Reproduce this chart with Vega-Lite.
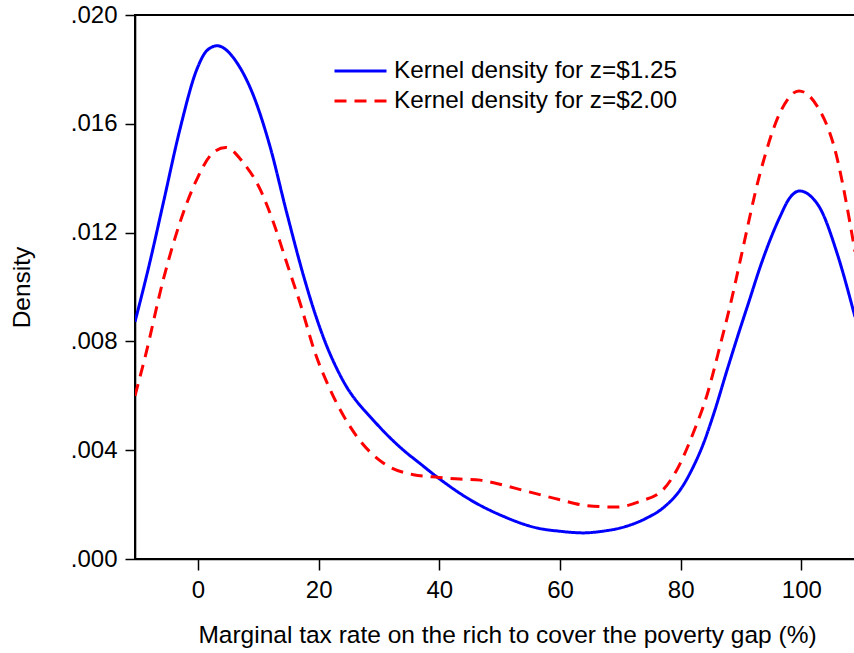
{
  "$schema": "https://vega.github.io/schema/vega-lite/v6.json",
  "autosize": {"type": "none"},
  "width": 720,
  "height": 544,
  "padding": {"left": 135, "top": 15, "right": 0, "bottom": 94},
  "background": "white",
  "config": {
    "font": "Liberation Sans",
    "view": {"stroke": "#000000", "strokeWidth": 2},
    "axis": {
      "grid": false,
      "domainColor": "#000000",
      "domainWidth": 1.6,
      "tickColor": "#000000",
      "tickWidth": 1.5,
      "labelFont": "Liberation Sans",
      "labelFontSize": 24,
      "labelColor": "#000000",
      "titleFont": "Liberation Sans",
      "titleFontSize": 24.5,
      "titleFontWeight": "normal",
      "titleColor": "#000000"
    }
  },
  "data": {
    "values": [
      {"rate": -10.45, "density": 0.00872, "series": "Kernel density for z=$1.25"},
      {"rate": -8.0, "density": 0.0109, "series": "Kernel density for z=$1.25"},
      {"rate": -5.75, "density": 0.0131, "series": "Kernel density for z=$1.25"},
      {"rate": -3.0, "density": 0.0158, "series": "Kernel density for z=$1.25"},
      {"rate": -0.2, "density": 0.0180, "series": "Kernel density for z=$1.25"},
      {"rate": 1.5, "density": 0.0187, "series": "Kernel density for z=$1.25"},
      {"rate": 3.2, "density": 0.01887, "series": "Kernel density for z=$1.25"},
      {"rate": 5.0, "density": 0.01865, "series": "Kernel density for z=$1.25"},
      {"rate": 6.4, "density": 0.01826, "series": "Kernel density for z=$1.25"},
      {"rate": 9.2, "density": 0.01703, "series": "Kernel density for z=$1.25"},
      {"rate": 11.9, "density": 0.01519, "series": "Kernel density for z=$1.25"},
      {"rate": 14.7, "density": 0.01273, "series": "Kernel density for z=$1.25"},
      {"rate": 17.5, "density": 0.0104, "series": "Kernel density for z=$1.25"},
      {"rate": 19.5, "density": 0.00895, "series": "Kernel density for z=$1.25"},
      {"rate": 21.3, "density": 0.00785, "series": "Kernel density for z=$1.25"},
      {"rate": 23.0, "density": 0.0070, "series": "Kernel density for z=$1.25"},
      {"rate": 24.7, "density": 0.0063, "series": "Kernel density for z=$1.25"},
      {"rate": 26.5, "density": 0.00574, "series": "Kernel density for z=$1.25"},
      {"rate": 28.5, "density": 0.00524, "series": "Kernel density for z=$1.25"},
      {"rate": 31.0, "density": 0.00464, "series": "Kernel density for z=$1.25"},
      {"rate": 34.0, "density": 0.00401, "series": "Kernel density for z=$1.25"},
      {"rate": 36.8, "density": 0.00351, "series": "Kernel density for z=$1.25"},
      {"rate": 40.0, "density": 0.00295, "series": "Kernel density for z=$1.25"},
      {"rate": 45.1, "density": 0.00218, "series": "Kernel density for z=$1.25"},
      {"rate": 50.6, "density": 0.00157, "series": "Kernel density for z=$1.25"},
      {"rate": 56.2, "density": 0.00114, "series": "Kernel density for z=$1.25"},
      {"rate": 60.0, "density": 0.00102, "series": "Kernel density for z=$1.25"},
      {"rate": 63.9, "density": 0.00096, "series": "Kernel density for z=$1.25"},
      {"rate": 67.0, "density": 0.00102, "series": "Kernel density for z=$1.25"},
      {"rate": 70.0, "density": 0.00114, "series": "Kernel density for z=$1.25"},
      {"rate": 74.4, "density": 0.00151, "series": "Kernel density for z=$1.25"},
      {"rate": 77.1, "density": 0.00188, "series": "Kernel density for z=$1.25"},
      {"rate": 80.4, "density": 0.0027, "series": "Kernel density for z=$1.25"},
      {"rate": 82.0, "density": 0.00335, "series": "Kernel density for z=$1.25"},
      {"rate": 83.7, "density": 0.0042, "series": "Kernel density for z=$1.25"},
      {"rate": 85.5, "density": 0.00535, "series": "Kernel density for z=$1.25"},
      {"rate": 87.7, "density": 0.00695, "series": "Kernel density for z=$1.25"},
      {"rate": 89.9, "density": 0.0085, "series": "Kernel density for z=$1.25"},
      {"rate": 91.3, "density": 0.00945, "series": "Kernel density for z=$1.25"},
      {"rate": 93.2, "density": 0.01075, "series": "Kernel density for z=$1.25"},
      {"rate": 96.5, "density": 0.0126, "series": "Kernel density for z=$1.25"},
      {"rate": 98.0, "density": 0.01325, "series": "Kernel density for z=$1.25"},
      {"rate": 99.7, "density": 0.01353, "series": "Kernel density for z=$1.25"},
      {"rate": 101.5, "density": 0.01335, "series": "Kernel density for z=$1.25"},
      {"rate": 103.2, "density": 0.01286, "series": "Kernel density for z=$1.25"},
      {"rate": 105.9, "density": 0.01126, "series": "Kernel density for z=$1.25"},
      {"rate": 108.9, "density": 0.0089, "series": "Kernel density for z=$1.25"},

      {"rate": -10.45, "density": 0.0060, "series": "Kernel density for z=$2.00"},
      {"rate": -8.8, "density": 0.0074, "series": "Kernel density for z=$2.00"},
      {"rate": -5.75, "density": 0.01028, "series": "Kernel density for z=$2.00"},
      {"rate": -3.0, "density": 0.01237, "series": "Kernel density for z=$2.00"},
      {"rate": -0.2, "density": 0.01396, "series": "Kernel density for z=$2.00"},
      {"rate": 2.5, "density": 0.01494, "series": "Kernel density for z=$2.00"},
      {"rate": 4.6, "density": 0.01513, "series": "Kernel density for z=$2.00"},
      {"rate": 7.5, "density": 0.01457, "series": "Kernel density for z=$2.00"},
      {"rate": 10.3, "density": 0.01359, "series": "Kernel density for z=$2.00"},
      {"rate": 12.5, "density": 0.01237, "series": "Kernel density for z=$2.00"},
      {"rate": 14.7, "density": 0.01089, "series": "Kernel density for z=$2.00"},
      {"rate": 16.9, "density": 0.00942, "series": "Kernel density for z=$2.00"},
      {"rate": 19.4, "density": 0.00758, "series": "Kernel density for z=$2.00"},
      {"rate": 21.9, "density": 0.00623, "series": "Kernel density for z=$2.00"},
      {"rate": 26.3, "density": 0.00451, "series": "Kernel density for z=$2.00"},
      {"rate": 30.7, "density": 0.00353, "series": "Kernel density for z=$2.00"},
      {"rate": 35.7, "density": 0.0031, "series": "Kernel density for z=$2.00"},
      {"rate": 39.9, "density": 0.0030, "series": "Kernel density for z=$2.00"},
      {"rate": 43.4, "density": 0.00294, "series": "Kernel density for z=$2.00"},
      {"rate": 46.8, "density": 0.0029, "series": "Kernel density for z=$2.00"},
      {"rate": 49.0, "density": 0.0028, "series": "Kernel density for z=$2.00"},
      {"rate": 54.5, "density": 0.00249, "series": "Kernel density for z=$2.00"},
      {"rate": 60.0, "density": 0.00218, "series": "Kernel density for z=$2.00"},
      {"rate": 64.5, "density": 0.00196, "series": "Kernel density for z=$2.00"},
      {"rate": 69.4, "density": 0.00191, "series": "Kernel density for z=$2.00"},
      {"rate": 73.3, "density": 0.00212, "series": "Kernel density for z=$2.00"},
      {"rate": 77.1, "density": 0.00255, "series": "Kernel density for z=$2.00"},
      {"rate": 79.4, "density": 0.00329, "series": "Kernel density for z=$2.00"},
      {"rate": 82.1, "density": 0.00464, "series": "Kernel density for z=$2.00"},
      {"rate": 84.4, "density": 0.00605, "series": "Kernel density for z=$2.00"},
      {"rate": 86.6, "density": 0.0079, "series": "Kernel density for z=$2.00"},
      {"rate": 88.5, "density": 0.0096, "series": "Kernel density for z=$2.00"},
      {"rate": 89.9, "density": 0.0110, "series": "Kernel density for z=$2.00"},
      {"rate": 93.2, "density": 0.01421, "series": "Kernel density for z=$2.00"},
      {"rate": 96.5, "density": 0.01642, "series": "Kernel density for z=$2.00"},
      {"rate": 99.6, "density": 0.01721, "series": "Kernel density for z=$2.00"},
      {"rate": 102.6, "density": 0.01666, "series": "Kernel density for z=$2.00"},
      {"rate": 105.4, "density": 0.01519, "series": "Kernel density for z=$2.00"},
      {"rate": 108.9, "density": 0.0113, "series": "Kernel density for z=$2.00"}
    ]
  },
  "mark": {"type": "line", "strokeWidth": 3, "interpolate": "monotone", "clip": true},
  "encoding": {
    "x": {
      "field": "rate",
      "type": "quantitative",
      "scale": {"domain": [-10.45, 108.9], "nice": false, "zero": false},
      "axis": {
        "title": "Marginal tax rate on the rich to cover the poverty gap (%)",
        "values": [0, 20, 40, 60, 80, 100],
        "tickSize": 11,
        "labelPadding": 8,
        "labelFlush": false,
        "titleX": 372,
        "titleY": 83,
        "titleAlign": "center",
        "titleBaseline": "alphabetic"
      }
    },
    "y": {
      "field": "density",
      "type": "quantitative",
      "scale": {"domain": [0, 0.02], "nice": false},
      "axis": {
        "title": "Density",
        "values": [0, 0.004, 0.008, 0.012, 0.016, 0.02],
        "labelExpr": "substring(format(datum.value, '.3f'), 1)",
        "tickSize": 10,
        "labelPadding": 8,
        "labelFlush": false,
        "titleAngle": -90,
        "titleX": -106,
        "titleY": 272,
        "titleAlign": "center",
        "titleBaseline": "alphabetic"
      }
    },
    "color": {
      "field": "series",
      "type": "nominal",
      "scale": {"range": ["#0000FF", "#FF0000"]},
      "legend": {
        "title": null,
        "orient": "none",
        "legendX": 198,
        "legendY": 41,
        "padding": 0,
        "symbolType": "stroke",
        "symbolSize": 2704,
        "symbolStrokeWidth": 3,
        "clipHeight": 30,
        "rowPadding": 0,
        "labelOffset": 6,
        "labelFont": "Liberation Sans",
        "labelFontSize": 24.3,
        "labelColor": "#000000",
        "labelLimit": 500
      }
    },
    "strokeDash": {
      "field": "series",
      "type": "nominal",
      "scale": {"range": [[1, 0], [12, 8]]},
      "legend": {
        "title": null,
        "orient": "none",
        "legendX": 198,
        "legendY": 41,
        "padding": 0,
        "symbolType": "stroke",
        "symbolSize": 2704,
        "symbolStrokeWidth": 3,
        "clipHeight": 30,
        "rowPadding": 0,
        "labelOffset": 6,
        "labelFont": "Liberation Sans",
        "labelFontSize": 24.3,
        "labelColor": "#000000",
        "labelLimit": 500
      }
    }
  }
}
